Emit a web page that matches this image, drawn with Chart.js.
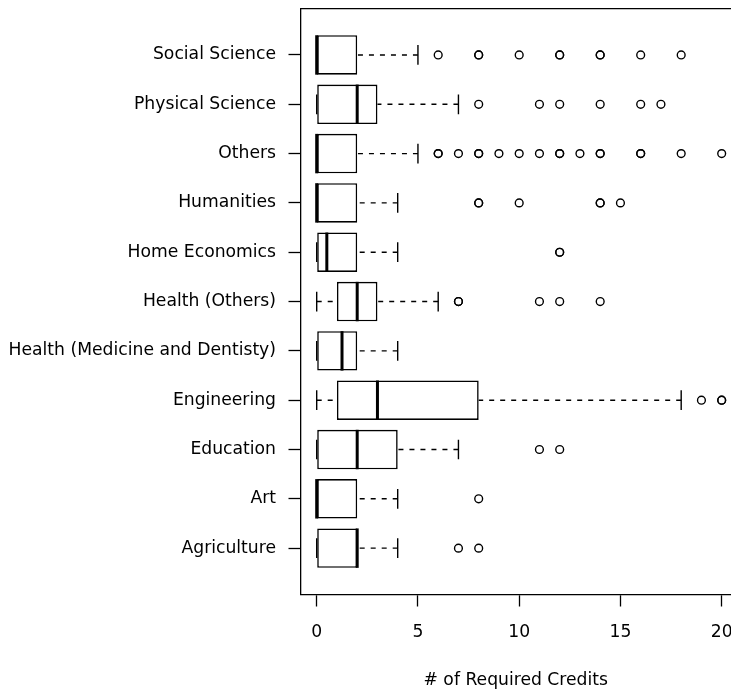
<!DOCTYPE html>
<html>
<head>
<meta charset="utf-8">
<script src="https://cdn.jsdelivr.net/npm/chart.js@4.4.1/dist/chart.umd.min.js"></script>
<style>
  html, body { margin: 0; padding: 0; background: #fff; overflow: hidden; }
  #wrap { width: 731px; height: 689px; }
</style>
</head>
<body>
<div id="wrap"><canvas id="c" width="731" height="689"></canvas></div>
<script>
// Fields of study, bottom to top
const categories = [
  'Agriculture', 'Art', 'Education', 'Engineering',
  'Health (Medicine and Dentisty)', 'Health (Others)', 'Home Economics',
  'Humanities', 'Others', 'Physical Science', 'Social Science'
];
// Five-number summaries (credits)
const whiskerLow  = [0, 0, 0, 0,  0,    0, 0,   0, 0, 0, 0];
const q1          = [0, 0, 0, 1,  0,    1, 0,   0, 0, 0, 0];
const median      = [2, 0, 2, 3,  1.25, 2, 0.5, 0, 0, 2, 0];
const q3          = [2, 2, 4, 8,  2,    3, 2,   2, 2, 3, 2];
const whiskerHigh = [4, 4, 7, 18, 4,    6, 4,   4, 5, 7, 5];
// Outlying observations (repeated values listed once per observation)
const outliers = [
  [7, 8],
  [8],
  [11, 12],
  [19, 20, 20],
  [],
  [7, 7, 11, 12, 14],
  [12, 12],
  [8, 8, 10, 14, 14, 15],
  [6, 6, 7, 8, 8, 9, 10, 11, 12, 12, 13, 14, 14, 16, 16, 18, 20],
  [8, 11, 12, 14, 16, 17],
  [6, 8, 8, 10, 12, 12, 14, 14, 16, 18]
];
const xTicks = [0, 5, 10, 15, 20];
const xTitle = '# of Required Credits';

const INK = '#000';
const LW = 1.3;

Chart.defaults.font.family = "'DejaVu Sans', sans-serif";
Chart.defaults.font.size = 17.2;
Chart.defaults.color = INK;

// Whiskers, staples, medians and the top frame line
const boxParts = {
  id: 'boxParts',
  afterDatasetsDraw(chart) {
    const { ctx, chartArea, scales: { x, y } } = chart;
    const unit = Math.abs(y.getPixelForValue(2) - y.getPixelForValue(1));
    const halfBox = unit * 0.4;
    const halfStaple = unit * 0.2;
    ctx.save();
    ctx.strokeStyle = INK;
    ctx.lineCap = 'butt';
    categories.forEach((c, i) => {
      const cy = y.getPixelForValue(i + 1);
      // dashed whiskers, drawn from the whisker end toward the box
      ctx.lineWidth = 1.4;
      ctx.setLineDash([5, 6]);
      ctx.beginPath();
      ctx.moveTo(x.getPixelForValue(whiskerHigh[i]), cy);
      ctx.lineTo(x.getPixelForValue(q3[i]), cy);
      ctx.moveTo(x.getPixelForValue(whiskerLow[i]), cy);
      ctx.lineTo(x.getPixelForValue(q1[i]), cy);
      ctx.stroke();
      // staples
      ctx.setLineDash([]);
      ctx.beginPath();
      [whiskerLow[i], whiskerHigh[i]].forEach(v => {
        const px = x.getPixelForValue(v);
        ctx.moveTo(px, cy - halfStaple);
        ctx.lineTo(px, cy + halfStaple);
      });
      ctx.stroke();
      // median
      ctx.lineWidth = 3;
      ctx.beginPath();
      const mx = x.getPixelForValue(median[i]);
      ctx.moveTo(mx, cy - halfBox);
      ctx.lineTo(mx, cy + halfBox);
      ctx.stroke();
    });
    ctx.lineWidth = LW;
    ctx.beginPath();
    ctx.moveTo(chartArea.left, chartArea.top);
    ctx.lineTo(chartArea.right, chartArea.top);
    ctx.stroke();
    ctx.restore();
  }
};

const boxData = categories.map((c, i) => ({ x: [q1[i], q3[i]], y: i + 1 }));
const outlierData = [];
outliers.forEach((list, i) => list.forEach(v => outlierData.push({ x: v, y: i + 1 })));

new Chart(document.getElementById('c'), {
  type: 'bar',
  data: {
    datasets: [
      {
        type: 'bar',
        indexAxis: 'y',
        data: boxData,
        backgroundColor: '#fff',
        borderColor: INK,
        borderWidth: 1.6,
        borderSkipped: false,
        barPercentage: 0.8,
        categoryPercentage: 1
      },
      {
        type: 'scatter',
        data: outlierData,
        pointStyle: 'circle',
        pointRadius: 3.9,
        pointBorderWidth: 1.4,
        pointBackgroundColor: 'rgba(0,0,0,0)',
        pointBorderColor: INK
      }
    ]
  },
  options: {
    indexAxis: 'y',
    responsive: false,
    animation: false,
    events: [],
    layout: { autoPadding: false, padding: { top: 8.6, left: 0, right: 0, bottom: 0 } },
    plugins: { legend: { display: false }, tooltip: { enabled: false } },
    scales: {
      x: {
        type: 'linear',
        position: 'bottom',
        offset: false,
        min: -0.8,
        max: 20.46,
        afterBuildTicks: s => { s.ticks = xTicks.map(v => ({ value: v })); },
        afterFit: s => { s.height = 94.5; s.paddingLeft = 0; s.paddingRight = 0; },
        border: { display: true, color: INK, width: LW },
        grid: { offset: false, drawOnChartArea: false, drawTicks: true, tickLength: 12, color: INK, tickColor: INK, tickWidth: LW },
        ticks: { color: INK, padding: 16, maxRotation: 0, autoSkip: false },
        title: { display: true, text: xTitle, color: INK, font: { size: 17.2, lineHeight: 1 }, padding: { top: 0, bottom: 0 } }
      },
      y: {
        type: 'linear',
        position: 'left',
        offset: false,
        min: 0.06,
        max: 11.94,
        afterBuildTicks: s => { s.ticks = categories.map((c, i) => ({ value: i + 1 })); },
        afterFit: s => { s.width = 300.5; s.paddingTop = 0; s.paddingBottom = 0; },
        border: { display: true, color: INK, width: LW },
        grid: { offset: false, drawOnChartArea: false, drawTicks: true, tickLength: 12, color: INK, tickColor: INK, tickWidth: LW },
        ticks: { color: INK, padding: 12.5, autoSkip: false, callback: v => categories[v - 1] }
      }
    }
  },
  plugins: [boxParts]
});
</script>
</body>
</html>
